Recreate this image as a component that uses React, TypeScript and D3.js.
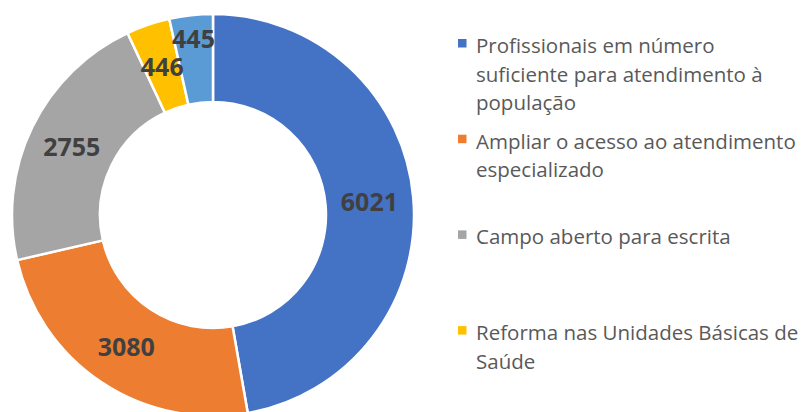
import React from 'react';
import * as d3 from 'd3';

const categories = [
  'Profissionais em número suficiente para atendimento à população',
  'Ampliar o acesso ao atendimento especializado',
  'Campo aberto para escrita',
  'Reforma nas Unidades Básicas de Saúde',
  'Outros',
];
const values = [6021, 3080, 2755, 446, 445];
const colors = ['#4472C4', '#ED7D31', '#A5A5A5', '#FFC000', '#5B9BD5'];

// legend text as it wraps in the original
const legendLines = [
  ['Profissionais em número', 'suficiente para atendimento à', 'população'],
  ['Ampliar o acesso ao atendimento', 'especializado'],
  ['Campo aberto para escrita'],
  ['Reforma nas Unidades Básicas de', 'Saúde'],
];

const width = 803;
const height = 412;

export default function App() {
  const cx = 213;
  const cy = 215;
  const outerR = 201;
  const innerR = 113;

  const pie = d3.pie<number>().sort(null).value((d) => d);
  const arcs = pie(values);
  const arc = d3.arc<d3.PieArcDatum<number>>().innerRadius(innerR).outerRadius(outerR);

  // labels at ring middle; push outwards if they collide with the previous one
  const labelPos: [number, number][] = [];
  arcs.forEach((a, i) => {
    const mid = (a.startAngle + a.endAngle) / 2;
    let r = (innerR + outerR) / 2;
    let x = Math.sin(mid) * r;
    let y = -Math.cos(mid) * r;
    if (i > 0) {
      const [px, py] = labelPos[i - 1];
      if (Math.abs(px - x) < 50 && Math.abs(py - y) < 24) {
        r += 21;
        x = Math.sin(mid) * r;
        y = -Math.cos(mid) * r;
      }
    }
    labelPos.push([x, y]);
  });

  const legendY = d3.scaleLinear().domain([0, 1]).range([33, 128.7]);
  const lineH = 28.6;

  return (
    <svg
      width={width}
      height={height}
      style={{ position: 'absolute', left: 0, top: 0, background: '#fff' }}
    >
      <g transform={`translate(${cx},${cy})`}>
        {arcs.map((a, i) => (
          <path key={i} d={arc(a) || ''} fill={colors[i]} stroke="#fff" strokeWidth={2.5} />
        ))}
        {arcs.map((a, i) => (
          <text
            key={'l' + i}
            x={labelPos[i][0]}
            y={labelPos[i][1]}
            textAnchor="middle"
            dominantBaseline="central"
            fontFamily="'Open Sans', sans-serif"
            fontWeight={700}
            fontSize={25}
            fill="#404040"
          >
            {a.data}
          </text>
        ))}
      </g>
      <g fontFamily="'Open Sans', sans-serif" fontSize={20.5} fill="#595959">
        {legendLines.map((lines, i) => {
          const top = legendY(i);
          return (
            <g key={categories[i]}>
              <rect x={458} y={top + 6} width={8.5} height={8.5} fill={colors[i]} />
              {lines.map((ln, j) => (
                <text key={j} x={476} y={top + 20 + j * lineH}>
                  {ln}
                </text>
              ))}
            </g>
          );
        })}
      </g>
    </svg>
  );
}
